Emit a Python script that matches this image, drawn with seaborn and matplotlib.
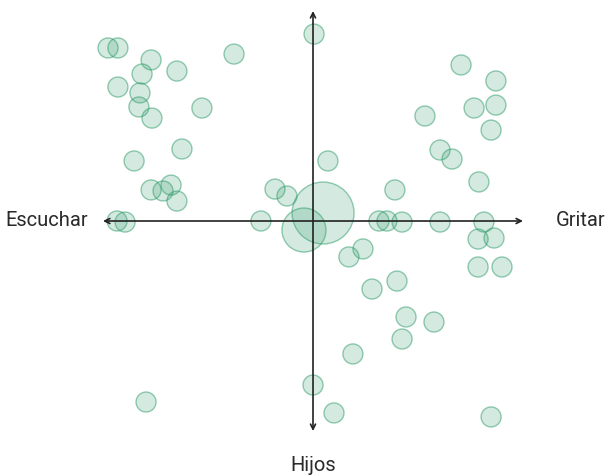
import numpy as np
import pandas as pd
import seaborn as sns
import matplotlib.pyplot as plt

# posiciones de cada persona en el plano (escuchar/gritar, hijos)
x_vals = [-9.76, -9.29, -7.71, -8.14, -6.48, -3.76, -9.29, -8.24, -8.29, -7.67,
          -5.29, -6.24, -8.52, -7.71, -6.76, -7.14, -6.48, -1.81, -1.24, -9.33,
          -8.95, -2.48, 0.05, 7.05, 8.71, 5.33, 7.67, 8.71, 8.48, 6.05,
          6.62, 0.71, 7.90, 3.90, 3.14, 3.52, 4.24, 6.05, 8.14, 0.48,
          -0.43, 7.86, 8.62, 2.38, 1.71, 7.86, 9.00, 4.00, 2.81, 4.43,
          5.76, 4.24, 1.90, 0.00, 1.00, 8.48, -7.95]
y_vals = [8.24, 8.24, 7.67, 7.00, 7.14, 7.95, 6.38, 6.10, 5.43, 4.90,
          5.38, 3.43, 2.86, 1.48, 1.71, 1.43, 0.95, 1.52, 1.19, 0.00,
          -0.05, 0.00, 8.90, 7.43, 6.67, 5.00, 5.38, 5.52, 4.33, 3.38,
          2.95, 2.86, 1.86, 1.48, 0.00, 0.00, -0.05, -0.05, -0.05, 0.38,
          -0.43, -0.86, -0.81, -1.33, -1.71, -2.19, -2.19, -2.86, -3.24, -4.57,
          -4.81, -5.62, -6.33, -7.81, -9.14, -9.33, -8.62]
peso = [1] * 39 + [3, 2] + [1] * 16

df = pd.DataFrame({'x': x_vals, 'y': y_vals, 'peso': peso})

sns.set_style('white')
fig = plt.figure(figsize=(6.09, 4.75), dpi=100)
ax = fig.add_axes([0, 0, 1, 1])

sns.scatterplot(data=df, x='x', y='y', size='peso', sizes={1: 207, 2: 1004, 3: 1990},
                facecolor=(0.17, 0.6, 0.4, 0.2), edgecolor=(0.17, 0.6, 0.4, 0.5),
                linewidth=1.0, legend=False, ax=ax, zorder=2)

ax.set_xlim(-14.905, 14.095)
ax.set_ylim(-12.095, 10.524)
ax.axis('off')

# ejes con flechas
arrow = dict(arrowstyle='<->', lw=1.2, color='#222222', shrinkA=0, shrinkB=0, mutation_scale=9)
ax.annotate('', xy=(10, 0), xytext=(-10, 0), arrowprops=arrow, zorder=3)
ax.annotate('', xy=(0, 10), xytext=(0, -10), arrowprops=arrow, zorder=3)

font = dict(family=['Roboto', 'DejaVu Sans'], fontsize=14.5, color='#2a2a2a')
ax.text(-10.7, 0.02, 'Escuchar', ha='right', va='center', **font)
ax.text(11.55, 0.02, 'Gritar', ha='left', va='center', **font)
ax.text(0, -11.65, 'Hijos', ha='center', va='center', **font)

fig.savefig('out.png', dpi=100)
